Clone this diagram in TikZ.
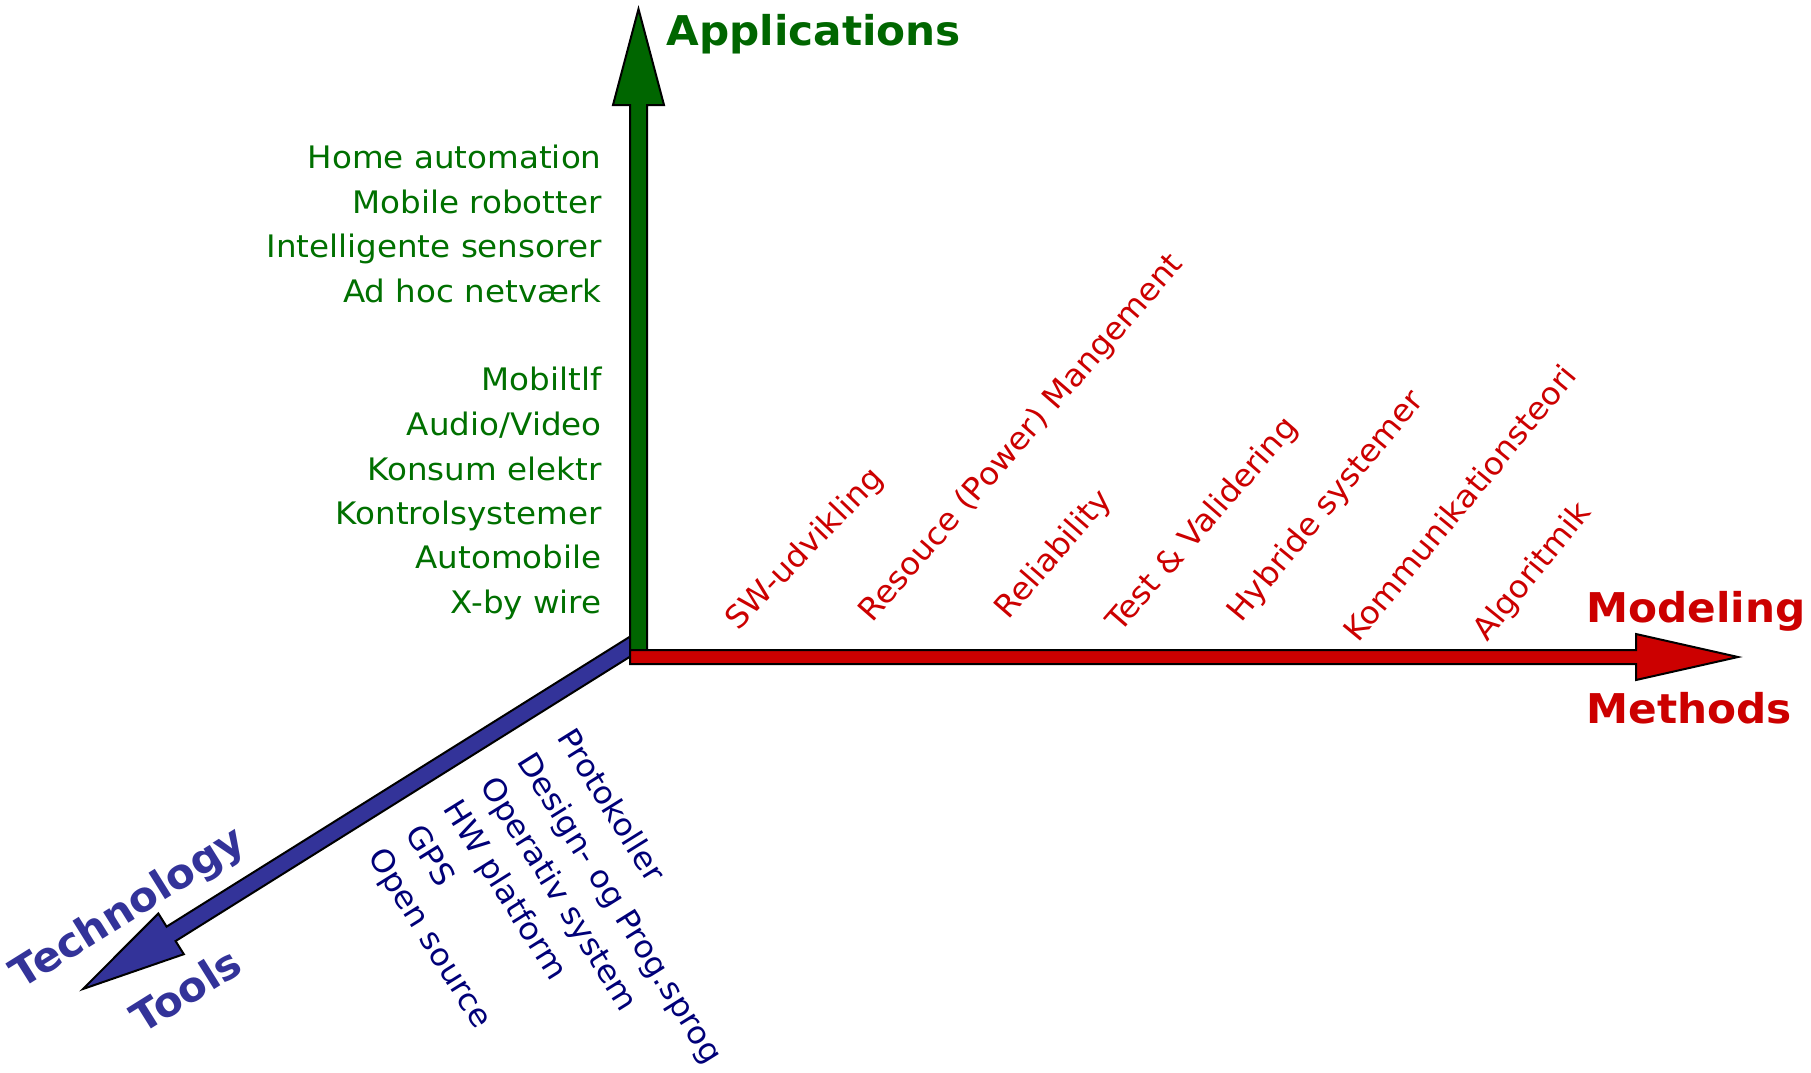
\documentclass[tikz,border=0pt]{standalone}
\usepackage{fontspec}
\setmainfont{DejaVu Sans}
\newfontfamily\lblfont[FakeStretch=1.05]{DejaVu Sans}
\newfontfamily\ttlfont[FakeStretch=1.03]{DejaVu Sans}
\definecolor{appgreen}{RGB}{0,102,0}
\definecolor{listgreen}{RGB}{0,112,0}
\definecolor{modred}{RGB}{204,0,0}
\definecolor{techblue}{RGB}{51,51,153}
\definecolor{listblue}{RGB}{0,0,120}
\begin{document}
\begin{tikzpicture}[x=0.5pt,y=-0.5pt,
  axisbox/.style={draw=black,line width=1pt,line join=miter,miter limit=25},
  lbl/.style={inner sep=0pt,font=\lblfont\fontsize{15.5}{18}\selectfont},
  ttl/.style={inner sep=0pt,font=\ttlfont\fontsize{20.5}{24}\selectfont\bfseries},
  greenlbl/.style={lbl,text=listgreen,anchor=base east},
  redlbl/.style={lbl,text=modred,rotate=#1,anchor=base west},
  redlbl/.default=50,
  bluelbl/.style={lbl,text=listblue,rotate=-58,anchor=base west},
  bluettl/.style={ttl,text=techblue,rotate=32,anchor=base west}]
\useasboundingbox (0,0) rectangle (1811,1072);
\fill[white] (0,0) rectangle (1811,1072);
\coordinate (O) at (639,657);
\coordinate (B0) at (639,641);
\coordinate (G0) at (638.5,657);
\coordinate (R0) at (630,657);
% blue axis (Technology / Tools)
\begin{scope}[shift={(B0)},rotate=212.04]
  \draw[axisbox,fill=techblue] (0,-8.5) -- (552,-8.5) -- (552,-24) -- (656,0)
    -- (552,24) -- (552,8.5) -- (0,8.5) -- cycle;
\end{scope}
% green axis (Applications)
\begin{scope}[shift={(G0)},rotate=90]
  \draw[axisbox,fill=appgreen] (0,-8.5) -- (552,-8.5) -- (552,-25.5) -- (648,0)
    -- (552,25.5) -- (552,8.5) -- (0,8.5) -- cycle;
\end{scope}
% red axis (Modeling / Methods)
\begin{scope}[shift={(R0)}]
  \draw[axisbox,fill=modred] (0,-7) -- (1006,-7) -- (1006,-23) -- (1108,0)
    -- (1006,23) -- (1006,7) -- (0,7) -- cycle;
\end{scope}
% titles
\node[ttl,text=appgreen,anchor=base west] (apps) at (666,45) {Applications};
\node[ttl,text=modred,anchor=base west] (modeling) at (1586,622) {Modeling};
\node[ttl,text=modred,anchor=base west] (methods) at (1586,723) {Methods};
\node[bluettl] (technology) at (21,990) {Technology};
\node[bluettl] (tools) at (142,1035) {Tools};
% applications list
\node[greenlbl] (g1) at (602,168) {Home automation};
\node[greenlbl] (g2) at (602,213) {Mobile robotter};
\node[greenlbl] (g3) at (602,257) {Intelligente sensorer};
\node[greenlbl] (g4) at (602,302) {Ad hoc netværk};
\node[greenlbl] (g5) at (602,390) {Mobiltlf};
\node[greenlbl] (g6) at (602,435) {Audio/Video};
\node[greenlbl] (g7) at (602,480) {Konsum elektr};
\node[greenlbl] (g8) at (602,524) {Kontrolsystemer};
\node[greenlbl] (g9) at (602,568) {Automobile};
\node[greenlbl] (g10) at (602,613) {X-by wire};
% methods list
\node[redlbl=46] (r1) at (738,632) {SW-udvikling};
\node[redlbl=49] (r2) at (872,624) {Resouce (Power) Mangement};
\node[redlbl=49] (r3) at (1008,621) {Reliability};
\node[redlbl=49] (r4) at (1120,634) {Test \& Validering};
\node[redlbl=50.5] (r5) at (1241,624) {Hybride systemer};
\node[redlbl=50.5] (r6) at (1358,644) {Kommunikationsteori};
\node[redlbl=51] (r7) at (1487,643) {Algoritmik};
% tools list
\node[bluelbl] (b1) at (556,737) {Protokoller};
\node[bluelbl] (b2) at (516,761) {Design- og Prog.sprog};
\node[bluelbl] (b3) at (479,785) {Operativ system};
\node[bluelbl] (b4) at (442,808) {HW platform};
\node[bluelbl] (b5) at (404,833) {GPS};
\node[bluelbl] (b6) at (367,856) {Open source};
\end{tikzpicture}
\end{document}
